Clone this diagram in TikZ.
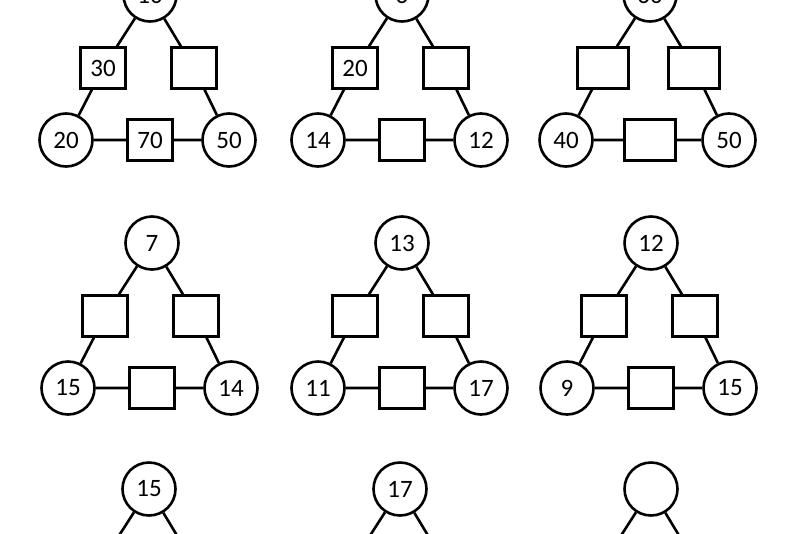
\documentclass[tikz,border=0pt]{standalone}
\usepackage{fontspec}
\setmainfont{Carlito}
\usepackage{tikz}

% one puzzle triangle: name, x, y of top circle, three circles, three boxes
\newcommand{\puzzle}[9]{%
  \node[ring] (#1t) at (#2,#3) {#4};
  \node[ring] (#1l) at (#2-84,#3+145) {#5};
  \node[ring] (#1r) at (#2+79,#3+145) {#6};
  \node[box]  (#1sl) at (#2-47,#3+73) {#7};
  \node[box]  (#1sr) at (#2+44,#3+73) {#8};
  \node[box]  (#1sb) at (#2,#3+145) {#9};
  \draw (#1t) -- (#1sl) -- (#1l) -- (#1sb) -- (#1r) -- (#1sr) -- (#1t);
}

\begin{document}
\begin{tikzpicture}[x=1pt, y=-1pt, line width=2.6pt,
    ring/.style={draw, circle, minimum size=53pt, inner sep=0pt,
      font=\fontsize{25}{30}\selectfont},
    box/.style={draw, rectangle, minimum width=45.5pt, minimum height=40.5pt,
      inner sep=0pt, font=\fontsize{25}{30}\selectfont}]
  \useasboundingbox (0,0) rectangle (800,533);
  \clip (0,0) rectangle (800,533);
  % first row (cut at the top)
  \puzzle{p1}{150}{-5}{10}{20}{50}{30}{}{70}
  \puzzle{p2}{402}{-5}{6}{14}{12}{20}{}{}
  \begin{scope}[box/.append style={minimum width=51.5pt}]
    \puzzle{p3}{650}{-5}{60}{40}{50}{}{}{}
  \end{scope}
  % second row
  \puzzle{p4}{152}{243}{7}{15}{14}{}{}{}
  \puzzle{p5}{402}{243}{13}{11}{17}{}{}{}
  \puzzle{p6}{651}{243}{12}{9}{15}{}{}{}
  % third row (cut at the bottom)
  \puzzle{p7}{149}{489}{15}{}{}{}{}{}
  \puzzle{p8}{400}{489}{17}{}{}{}{}{}
  \puzzle{p9}{651}{489}{}{}{}{}{}{}
\end{tikzpicture}
\end{document}
